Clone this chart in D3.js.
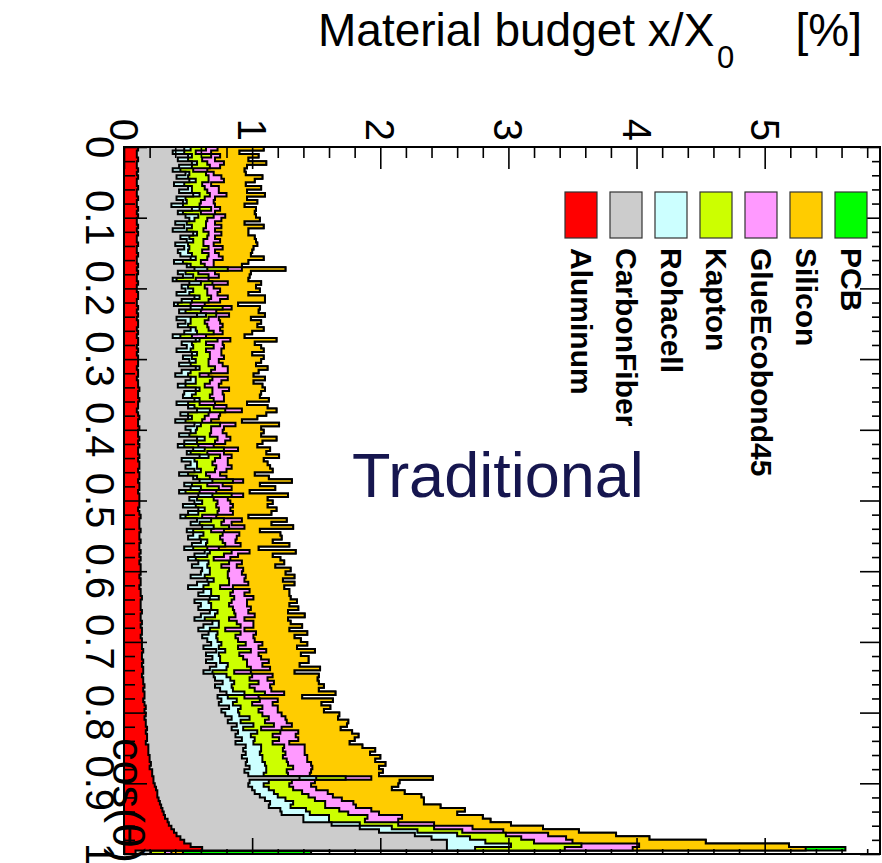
<!DOCTYPE html>
<html>
<head>
<meta charset="utf-8">
<script src="https://cdn.jsdelivr.net/npm/d3@7"></script>
<style>
  body { margin: 0; background: #fff; }
  svg { display: block; }
  text { font-family: "Liberation Sans", Arial, Helvetica, sans-serif; }
</style>
</head>
<body>
<svg id="chart" width="882" height="863"></svg>
<script>
// Material budget per cos(theta) bin (200 bins of 0.005), in % of X0, per material
const materials = ["Aluminum", "CarbonFiber", "Rohacell", "Kapton", "GlueEcobond45", "Silicon", "PCB"];
const materialColors = ["#ff0000", "#cccccc", "#ccffff", "#ccff00", "#ff99ff", "#ffcc00", "#00ff00"];
const binWidth = 0.005;
const cosThetaBins = d3.range(200).map(i => i * binWidth);

const aluminum = [
  0.11,0.10,0.10,0.11,0.10,0.10,0.11,0.10,0.11,0.10, 0.10,0.11,0.10,0.10,0.11,0.10,0.10,0.11,0.10,0.11,
  0.10,0.10,0.11,0.10,0.11,0.10,0.10,0.11,0.10,0.10, 0.11,0.10,0.10,0.11,0.10,0.11,0.10,0.10,0.11,0.10,
  0.10,0.11,0.11,0.10,0.10,0.11,0.10,0.11,0.10,0.11, 0.11,0.10,0.11,0.10,0.11,0.11,0.10,0.11,0.10,0.11,
  0.11,0.11,0.10,0.11,0.11,0.10,0.11,0.11,0.12,0.11, 0.11,0.12,0.11,0.11,0.10,0.11,0.12,0.11,0.11,0.12,
  0.11,0.11,0.12,0.11,0.12,0.11,0.11,0.12,0.11,0.12, 0.12,0.11,0.12,0.12,0.11,0.12,0.12,0.11,0.12,0.12,
  0.12,0.12,0.11,0.12,0.13,0.12,0.12,0.12,0.13,0.12, 0.12,0.13,0.12,0.12,0.13,0.12,0.13,0.12,0.13,0.13,
  0.13,0.12,0.13,0.13,0.12,0.13,0.13,0.14,0.13,0.13, 0.13,0.14,0.13,0.13,0.14,0.13,0.14,0.14,0.13,0.14,
  0.14,0.14,0.15,0.14,0.14,0.15,0.14,0.15,0.15,0.14, 0.15,0.15,0.16,0.15,0.16,0.16,0.15,0.16,0.17,0.16,
  0.17,0.16,0.17,0.17,0.18,0.17,0.18,0.18,0.17,0.19, 0.19,0.19,0.20,0.20,0.21,0.20,0.22,0.22,0.23,0.23,
  0.24,0.25,0.26,0.26,0.27,0.28,0.29,0.30,0.31,0.32, 0.34,0.35,0.37,0.39,0.41,0.44,0.47,0.52,0.61,0.09
];
const carbonFiber = [
  0.36,0.28,0.40,0.31,0.43,0.33,0.27,0.38,0.30,0.41, 0.29,0.39,0.33,0.44,0.30,0.36,0.27,0.42,0.32,0.37,
  0.41,0.30,0.36,0.28,0.43,0.34,0.39,0.29,0.37,0.32, 0.33,0.42,0.29,0.38,0.45,0.31,0.36,0.28,0.40,0.35,
  0.38,0.30,0.44,0.35,0.29,0.41,0.33,0.46,0.31,0.37, 0.31,0.42,0.36,0.28,0.45,0.34,0.39,0.30,0.43,0.35,
  0.40,0.32,0.46,0.34,0.29,0.42,0.37,0.31,0.44,0.36, 0.35,0.43,0.30,0.39,0.47,0.33,0.38,0.29,0.44,0.36,
  0.41,0.32,0.45,0.36,0.30,0.43,0.38,0.47,0.34,0.40, 0.36,0.44,0.31,0.42,0.48,0.35,0.40,0.32,0.46,0.39,
  0.43,0.34,0.47,0.38,0.31,0.45,0.40,0.49,0.36,0.42, 0.38,0.47,0.41,0.35,0.50,0.43,0.37,0.46,0.40,0.48,
  0.47,0.40,0.52,0.44,0.38,0.49,0.45,0.53,0.42,0.47, 0.45,0.53,0.47,0.42,0.55,0.49,0.44,0.52,0.48,0.51,
  0.54,0.48,0.57,0.50,0.55,0.49,0.58,0.52,0.47,0.56, 0.56,0.62,0.55,0.60,0.64,0.57,0.61,0.58,0.65,0.60,
  0.62,0.68,0.64,0.71,0.66,0.72,0.69,0.74,0.70,0.76, 0.74,0.76,0.72,0.76,0.74,0.78,0.72,0.75,1.14,0.75,
  0.73,0.75,0.76,0.80,0.83,0.86,0.84,0.92,0.92,1.08, 1.06,1.27,1.47,1.60,1.86,1.96,2.05,2.00,1.91,0.12
];
const rohacell = [
  0.05,0.09,0.03,0.08,0.04,0.10,0.06,0.03,0.09,0.05, 0.08,0.03,0.10,0.05,0.07,0.03,0.09,0.06,0.04,0.10,
  0.04,0.09,0.06,0.11,0.03,0.07,0.05,0.10,0.04,0.08, 0.09,0.04,0.07,0.03,0.10,0.06,0.08,0.03,0.09,0.05,
  0.06,0.10,0.04,0.08,0.03,0.09,0.05,0.07,0.11,0.04, 0.08,0.04,0.10,0.06,0.03,0.08,0.05,0.11,0.04,0.07,
  0.05,0.09,0.03,0.07,0.10,0.04,0.08,0.06,0.03,0.09, 0.07,0.04,0.09,0.05,0.10,0.06,0.03,0.08,0.05,0.09,
  0.04,0.08,0.06,0.10,0.05,0.09,0.03,0.07,0.10,0.05, 0.09,0.05,0.07,0.03,0.10,0.06,0.08,0.05,0.11,0.06,
  0.06,0.10,0.05,0.08,0.04,0.11,0.07,0.09,0.05,0.08, 0.09,0.05,0.11,0.07,0.04,0.10,0.06,0.08,0.12,0.06,
  0.07,0.11,0.05,0.09,0.12,0.06,0.10,0.07,0.11,0.08, 0.10,0.06,0.11,0.08,0.05,0.12,0.09,0.07,0.11,0.08,
  0.08,0.12,0.07,0.10,0.06,0.11,0.09,0.13,0.07,0.10, 0.12,0.09,0.13,0.10,0.14,0.08,0.12,0.11,0.09,0.13,
  0.11,0.14,0.10,0.13,0.09,0.15,0.12,0.10,0.14,0.12, 0.14,0.11,0.16,0.12,0.15,0.13,0.17,0.12,0.13,0.15,
  0.12,0.13,0.15,0.14,0.16,0.18,0.17,0.20,0.22,0.20, 0.20,0.22,0.25,0.30,0.33,0.30,0.30,0.50,0.22,0.00
];
const kapton = [
  0.12,0.09,0.15,0.11,0.08,0.14,0.10,0.13,0.16,0.10, 0.14,0.10,0.12,0.08,0.15,0.11,0.13,0.09,0.14,0.12,
  0.10,0.15,0.11,0.13,0.09,0.14,0.08,0.12,0.15,0.11, 0.13,0.09,0.14,0.11,0.16,0.10,0.12,0.15,0.09,0.13,
  0.11,0.14,0.09,0.13,0.10,0.16,0.12,0.08,0.14,0.11, 0.15,0.10,0.13,0.09,0.14,0.11,0.16,0.12,0.10,0.14,
  0.10,0.14,0.12,0.16,0.09,0.13,0.11,0.15,0.10,0.13, 0.14,0.11,0.09,0.15,0.12,0.16,0.10,0.13,0.15,0.11,
  0.12,0.16,0.10,0.14,0.11,0.15,0.13,0.09,0.16,0.12, 0.15,0.11,0.14,0.10,0.16,0.12,0.14,0.11,0.15,0.13,
  0.12,0.16,0.11,0.15,0.13,0.10,0.17,0.12,0.14,0.15, 0.16,0.12,0.15,0.11,0.17,0.13,0.14,0.16,0.11,0.15,
  0.14,0.18,0.12,0.16,0.13,0.17,0.15,0.12,0.18,0.14, 0.17,0.13,0.16,0.19,0.14,0.17,0.12,0.18,0.15,0.16,
  0.19,0.15,0.20,0.16,0.18,0.21,0.15,0.19,0.17,0.20, 0.15,0.19,0.14,0.17,0.16,0.13,0.18,0.15,0.17,0.16,
  0.18,0.15,0.19,0.16,0.14,0.18,0.17,0.19,0.15,0.18, 0.17,0.20,0.16,0.19,0.18,0.21,0.16,0.19,0.23,0.18,
  0.20,0.19,0.22,0.24,0.23,0.25,0.27,0.26,0.30,0.30, 0.28,0.30,0.33,0.35,0.38,0.40,0.38,0.55,0.70,0.11
];
const glueEcobond45 = [
  0.09,0.12,0.07,0.10,0.13,0.08,0.11,0.06,0.10,0.12, 0.07,0.11,0.09,0.13,0.08,0.10,0.12,0.07,0.11,0.09,
  0.11,0.07,0.12,0.09,0.10,0.06,0.13,0.08,0.11,0.10, 0.08,0.12,0.10,0.07,0.11,0.13,0.08,0.10,0.12,0.07,
  0.10,0.08,0.13,0.09,0.11,0.07,0.12,0.10,0.08,0.12, 0.12,0.09,0.07,0.11,0.10,0.13,0.08,0.12,0.09,0.11,
  0.08,0.11,0.10,0.13,0.07,0.12,0.09,0.11,0.13,0.08, 0.11,0.08,0.12,0.10,0.13,0.09,0.11,0.07,0.12,0.10,
  0.09,0.13,0.10,0.08,0.12,0.11,0.13,0.09,0.10,0.12, 0.12,0.09,0.11,0.13,0.08,0.12,0.10,0.13,0.09,0.11,
  0.10,0.13,0.09,0.12,0.11,0.14,0.08,0.12,0.10,0.13, 0.13,0.10,0.12,0.09,0.14,0.11,0.13,0.10,0.12,0.11,
  0.11,0.14,0.12,0.15,0.10,0.13,0.11,0.15,0.12,0.14, 0.14,0.11,0.15,0.12,0.13,0.10,0.15,0.12,0.14,0.13,
  0.13,0.16,0.12,0.15,0.14,0.17,0.12,0.15,0.13,0.16, 0.14,0.12,0.16,0.13,0.15,0.11,0.14,0.16,0.12,0.15,
  0.15,0.13,0.17,0.14,0.16,0.14,0.18,0.15,0.13,0.16, 0.17,0.15,0.19,0.16,0.18,0.15,0.19,0.17,0.20,0.18,
  0.17,0.18,0.20,0.19,0.21,0.22,0.24,0.25,0.24,0.27, 0.26,0.28,0.30,0.32,0.33,0.35,0.30,0.45,0.53,0.05
];
const silicon = [
  0.36,0.22,0.30,0.26,0.33,0.21,0.29,0.25,0.32,0.24, 0.27,0.33,0.22,0.30,0.25,0.34,0.23,0.28,0.31,0.24,
  0.30,0.23,0.33,0.26,0.21,0.31,0.28,0.34,0.24,0.29, 0.25,0.32,0.27,0.22,0.34,0.28,0.24,0.31,0.26,0.33,
  0.31,0.24,0.29,0.35,0.26,0.22,0.33,0.28,0.25,0.32, 0.27,0.34,0.23,0.30,0.36,0.25,0.29,0.33,0.24,0.31,
  0.33,0.26,0.31,0.24,0.35,0.29,0.25,0.34,0.28,0.30, 0.28,0.35,0.25,0.32,0.27,0.36,0.30,0.24,0.34,0.29,
  0.32,0.27,0.36,0.29,0.34,0.25,0.33,0.37,0.28,0.31, 0.30,0.36,0.27,0.33,0.38,0.29,0.34,0.26,0.35,0.31,
  0.33,0.27,0.36,0.30,0.25,0.35,0.31,0.38,0.28,0.32, 0.35,0.29,0.38,0.31,0.36,0.27,0.39,0.33,0.30,0.37,
  0.34,0.38,0.30,0.36,0.40,0.31,0.35,0.29,0.39,0.33, 0.37,0.31,0.39,0.34,0.29,0.38,0.35,0.40,0.32,0.36,
  0.35,0.30,0.38,0.33,0.37,0.31,0.29,0.39,0.34,0.36, 0.39,0.35,0.42,0.37,0.40,0.34,0.43,0.38,0.41,0.36,
  0.45,0.41,0.48,0.43,0.46,0.42,0.49,0.44,0.47,0.45, 0.55,0.51,0.57,0.53,0.58,0.52,0.56,0.54,0.48,0.66,
  0.68,0.59,0.60,0.69,0.64,0.55,0.66,0.73,0.61,0.63, 0.72,0.60,0.55,0.59,0.53,0.65,1.04,1.17,1.35,0.09
];
const pcb = [
  0,0,0,0,0,0,0,0,0,0, 0,0,0,0,0,0,0,0,0,0,
  0,0,0,0,0,0,0,0,0,0, 0,0,0,0,0,0,0,0,0,0,
  0,0,0,0,0,0,0,0,0,0, 0,0,0,0,0,0,0,0,0,0,
  0,0,0,0,0,0,0,0,0,0, 0,0,0,0,0,0,0,0,0,0,
  0,0,0,0,0,0,0,0,0,0, 0,0,0,0,0,0,0,0,0,0,
  0,0,0,0,0,0,0,0,0,0, 0,0,0,0,0,0,0,0,0,0,
  0,0,0,0,0,0,0,0,0,0, 0,0,0,0,0,0,0,0,0,0,
  0,0,0,0,0,0,0,0,0,0, 0,0,0,0,0,0,0,0,0,0,
  0,0,0,0,0,0,0,0,0,0, 0,0,0,0,0,0,0,0,0,0,
  0,0,0,0,0,0,0,0,0,0, 0,0,0,0,0,0,0,0,0.31,1.00
];
const seriesValues = [aluminum, carbonFiber, rohacell, kapton, glueEcobond45, silicon, pcb];

const budgetTickLabels = ["0", "1", "2", "3", "4", "5"];
const cosTickValues = [0, 0.1, 0.2, 0.3, 0.4, 0.5, 0.6, 0.7, 0.8, 0.9, 1];
const cosTickLabels = ["0", "0.1", "0.2", "0.3", "0.4", "0.5", "0.6", "0.7", "0.8", "0.9", "1"];

const svg = d3.select("#chart");

// Material budget runs left to right, cos(theta) top to bottom
const x = d3.scaleLinear().domain([0, 5.9]).range([124, 880]);
const y = d3.scaleLinear().domain([0, 1]).range([147, 854]);

const rows = cosThetaBins.map((lo, i) => {
  const r = { lo };
  materials.forEach((m, k) => { r[m] = seriesValues[k][i]; });
  return r;
});
const stacked = d3.stack().keys(materials)(rows);

const line = d3.line();
const plot = svg.append("g");
// Outermost cumulative histogram first, so inner ones are painted on top
stacked.slice().reverse().forEach(layer => {
  const k = materials.indexOf(layer.key);
  const pts = [[x(0), y(0)]];
  layer.forEach((d, i) => {
    const lo = rows[i].lo;
    pts.push([x(d[1]), y(lo)]);
    pts.push([x(d[1]), y(lo + binWidth)]);
  });
  pts.push([x(0), y(1)]);
  plot.append("path")
    .attr("d", line(pts) + "Z")
    .attr("fill", materialColors[k])
    .attr("stroke", "#000")
    .attr("stroke-width", 2)
    .attr("stroke-linejoin", "miter");
});

// Axes (ticks only; labels are rotated separately)
const majorBudget = d3.range(0, 6, 1);
const minorBudget = d3.range(0, 5.91, 0.2).filter(v => Math.abs(v - Math.round(v)) > 1e-6);
const majorCos = cosTickValues;
const minorCos = d3.range(0, 1.0001, 0.02).filter(v => Math.abs(v * 10 - Math.round(v * 10)) > 1e-6);

function tickStyle(g) {
  g.select(".domain").remove();
  g.selectAll("line").attr("stroke", "#000").attr("stroke-width", 1.6);
  g.selectAll("text").remove();
}
svg.append("g").attr("transform", `translate(0,${y(0)})`)
  .call(d3.axisTop(x).tickValues(majorBudget).tickSize(-22)).call(tickStyle);
svg.append("g").attr("transform", `translate(0,${y(0)})`)
  .call(d3.axisTop(x).tickValues(minorBudget).tickSize(-11)).call(tickStyle);
svg.append("g").attr("transform", `translate(0,${y(1)})`)
  .call(d3.axisBottom(x).tickValues(majorBudget).tickSize(-16)).call(tickStyle);
svg.append("g").attr("transform", `translate(0,${y(1)})`)
  .call(d3.axisBottom(x).tickValues(minorBudget).tickSize(-5)).call(tickStyle);
svg.append("g").attr("transform", `translate(${x(0)},0)`)
  .call(d3.axisLeft(y).tickValues(majorCos).tickSize(-23)).call(tickStyle);
svg.append("g").attr("transform", `translate(${x(0)},0)`)
  .call(d3.axisLeft(y).tickValues(minorCos).tickSize(-11)).call(tickStyle);
svg.append("g").attr("transform", `translate(${x(5.9)},0)`)
  .call(d3.axisRight(y).tickValues(majorCos).tickSize(-20)).call(tickStyle);
svg.append("g").attr("transform", `translate(${x(5.9)},0)`)
  .call(d3.axisRight(y).tickValues(minorCos).tickSize(-8)).call(tickStyle);

// Frame
svg.append("rect")
  .attr("x", x(0)).attr("y", y(0))
  .attr("width", x(5.9) - x(0)).attr("height", y(1) - y(0))
  .attr("fill", "none").attr("stroke", "#000").attr("stroke-width", 2);

// Tick labels, rotated to read top to bottom
svg.append("g").selectAll("text").data(majorBudget).join("text")
  .attr("transform", d => `translate(${x(d)},141) rotate(90)`)
  .attr("text-anchor", "end").attr("dy", "0.35em")
  .attr("font-size", 40).attr("fill", "#000")
  .text((d, i) => budgetTickLabels[i]);

svg.append("g").selectAll("text").data(cosTickValues).join("text")
  .attr("transform", d => `translate(86,${y(d)}) rotate(90)`)
  .attr("text-anchor", "middle")
  .attr("font-size", 40).attr("fill", "#000")
  .text((d, i) => cosTickLabels[i]);

// Axis titles
const title = svg.append("g").attr("fill", "#000");
title.append("text").attr("x", 318).attr("y", 46).attr("font-size", 46).text("Material budget x/X");
title.append("text").attr("x", 717).attr("y", 68).attr("font-size", 31).text("0");
title.append("text").attr("x", 862).attr("y", 46).attr("font-size", 46).attr("text-anchor", "end").text("[%]");

svg.append("text")
  .attr("transform", "translate(113,738) rotate(90)")
  .attr("font-size", 45).attr("fill", "#000")
  .text("cos(θ)");

// Legend
const legend = svg.append("g");
materials.forEach((m, i) => {
  const cx = 581 + 45 * i;
  legend.append("rect")
    .attr("x", cx - 16).attr("y", 192).attr("width", 32).attr("height", 46)
    .attr("fill", materialColors[i]).attr("stroke", "#333").attr("stroke-width", 1.2);
  legend.append("text")
    .attr("transform", `translate(${cx - 10},248) rotate(90)`)
    .attr("font-size", 30).attr("font-weight", "bold").attr("fill", "#000")
    .text(m);
});

// Label
svg.append("text")
  .attr("x", 352).attr("y", 497)
  .attr("font-size", 63).attr("fill", "#16164f")
  .text("Traditional");
</script>
</body>
</html>
